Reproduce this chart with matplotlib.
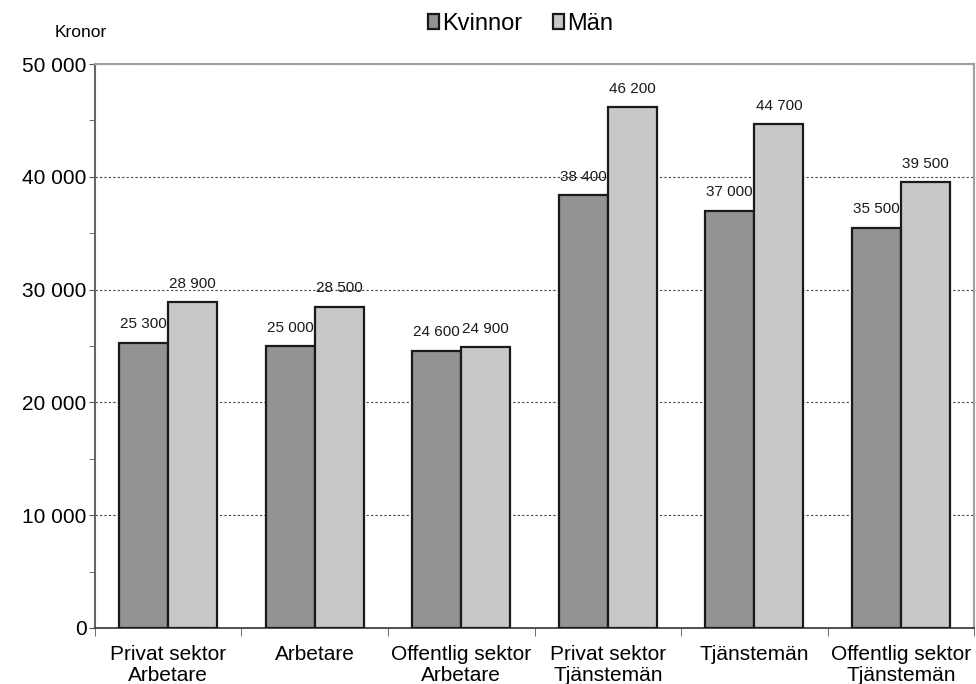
import numpy as np
import matplotlib.pyplot as plt
from matplotlib.ticker import FixedLocator, FuncFormatter, MultipleLocator

categories = ["Privat sektor\nArbetare", "Arbetare", "Offentlig sektor\nArbetare",
              "Privat sektor\nTjänstemän", "Tjänstemän", "Offentlig sektor\nTjänstemän"]
kvinnor = [25300, 25000, 24600, 38400, 37000, 35500]
man = [28900, 28500, 24900, 46200, 44700, 39500]

plt.rcParams['font.family'] = ['Liberation Sans', 'DejaVu Sans']

fig = plt.figure(figsize=(9.76, 6.84), dpi=100)
ax = fig.add_axes([0.0973, 0.0819, 0.9007, 0.8245])

x = np.arange(len(categories))
w = 0.335
b1 = ax.bar(x - w / 2, kvinnor, w, color='#939393', edgecolor='#1a1a1a', linewidth=1.6,
            label='Kvinnor', zorder=3)
b2 = ax.bar(x + w / 2, man, w, color='#c8c8c8', edgecolor='#1a1a1a', linewidth=1.6,
            label='Män', zorder=3)

def fmt(v, pos=None):
    return f"{int(v):,}".replace(",", " ")

for bars, vals in ((b1, kvinnor), (b2, man)):
    for r, v in zip(bars, vals):
        ax.text(r.get_x() + r.get_width() / 2, v + 1000, fmt(v), ha='center', va='bottom',
                fontsize=11, color='#1a1a1a', zorder=4)

ax.set_xlim(-0.5, len(categories) - 0.5)
ax.set_ylim(0, 50000)
ax.yaxis.set_major_locator(MultipleLocator(10000))
ax.yaxis.set_minor_locator(MultipleLocator(5000))
ax.yaxis.set_major_formatter(FuncFormatter(fmt))
ax.tick_params(axis='y', which='both', direction='out', length=4, labelsize=15,
               color='#555555', pad=2)

ax.set_xticks(x)
ax.set_xticklabels(categories, fontsize=15, linespacing=1.15)
ax.xaxis.set_minor_locator(FixedLocator(np.arange(-0.5, len(categories), 1.0)))
ax.tick_params(axis='x', which='major', length=0, pad=12)
ax.tick_params(axis='x', which='minor', direction='out', length=6, color='#555555')

ax.yaxis.grid(True, linestyle=(0, (2, 2)), color='#444444', linewidth=0.8, zorder=0)
ax.set_axisbelow(True)

for s in ('top', 'right'):
    ax.spines[s].set_color('#a0a0a0')
    ax.spines[s].set_linewidth(1.5)
ax.spines['left'].set_color('#666666')
ax.spines['left'].set_linewidth(1.5)
ax.spines['bottom'].set_color('#333333')
ax.spines['bottom'].set_linewidth(1.2)

fig.text(0.056, 0.952, "Kronor", fontsize=12.5, ha='left', va='center')

ax.legend(loc='center', bbox_to_anchor=(0.533, 0.965), bbox_transform=fig.transFigure,
          ncol=2, frameon=False, fontsize=17, handlelength=0.5, handleheight=0.55,
          handletextpad=0.1, columnspacing=1.3)

fig.savefig("out.png", dpi=100)
